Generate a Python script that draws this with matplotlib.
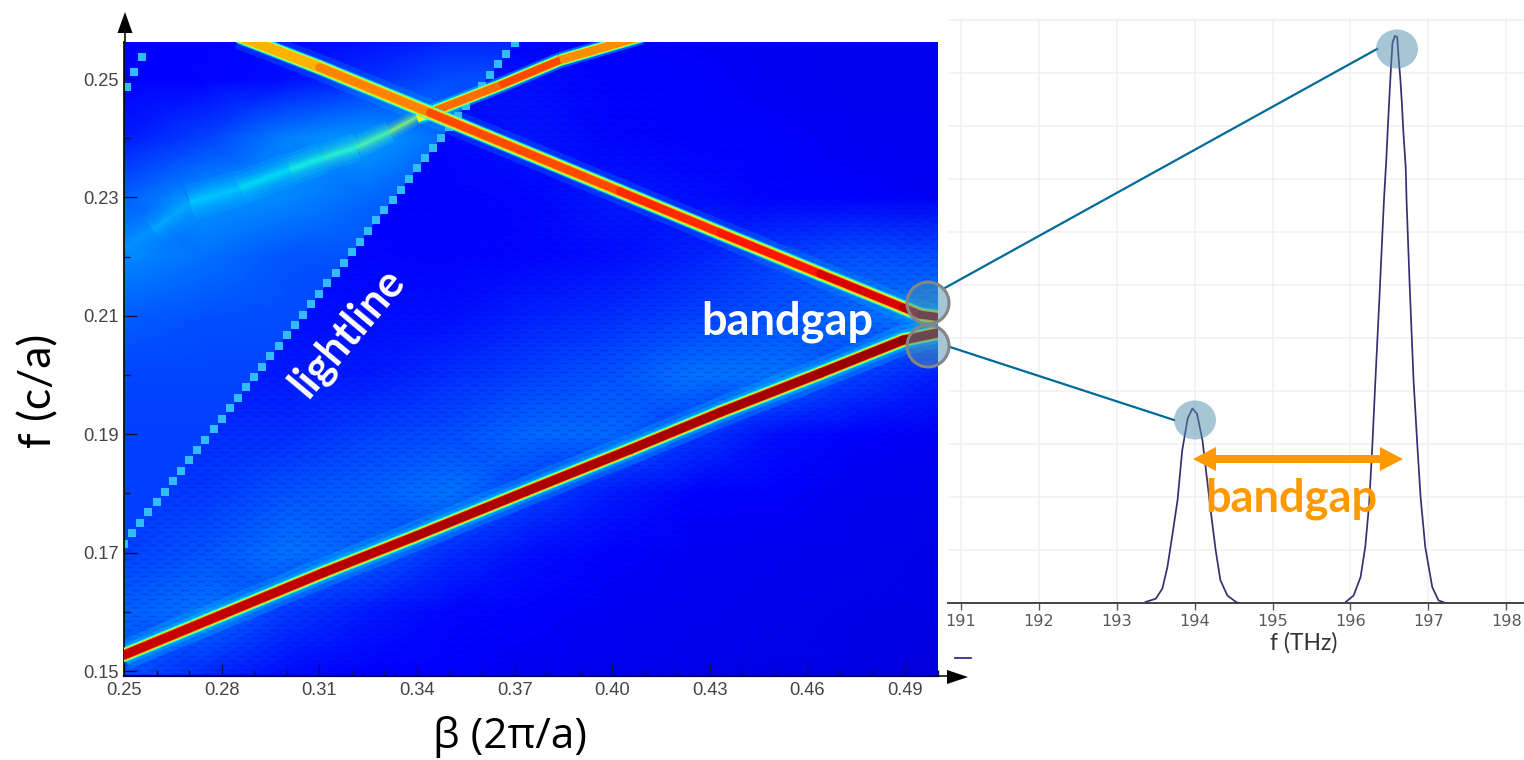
import numpy as np
import matplotlib
matplotlib.use("Agg")
import matplotlib.pyplot as plt
from matplotlib.collections import LineCollection
from matplotlib.patches import Ellipse, Polygon
from matplotlib.ticker import MultipleLocator, FixedLocator, FixedFormatter

W, H = 1524, 760
# ---------- data ----------
bg_beta = [0.25, 0.275, 0.30, 0.325, 0.35, 0.375, 0.40, 0.425, 0.45, 0.475, 0.50]
bg_f = [0.145, 0.15, 0.16, 0.17, 0.18, 0.19, 0.20, 0.21, 0.22, 0.23, 0.24, 0.25, 0.26]
bg_level = [
    [.19, .15, .13, .12, .11, .10, .095, .09, .09, .09, .085],
    [.21, .17, .14, .125, .115, .105, .10, .095, .09, .09, .085],
    [.22, .24, .18, .15, .13, .115, .105, .10, .095, .09, .09],
    [.19, .21, .24, .22, .17, .14, .12, .105, .10, .095, .09],
    [.18, .18, .21, .22, .24, .19, .15, .125, .11, .10, .095],
    [.17, .17, .17, .19, .20, .23, .23, .18, .14, .12, .105],
    [.15, .15, .15, .15, .17, .19, .21, .24, .24, .19, .155],
    [.14, .14, .14, .14, .14, .16, .17, .19, .21, .23, .26],
    [.13, .13, .13, .13, .125, .13, .14, .16, .19, .21, .20],
    [.12, .12, .12, .12, .125, .13, .15, .14, .125, .11, .105],
    [.115, .115, .115, .125, .13, .145, .13, .115, .11, .105, .105],
    [.11, .11, .11, .13, .145, .14, .115, .11, .105, .10, .10],
    [.11, .11, .11, .125, .125, .11, .11, .105, .105, .10, .10],
]
left_beta = [0.25, 0.275, 0.30, 0.325, 0.35, 0.375]
left_f = [0.165, 0.17, 0.18, 0.19, 0.20, 0.21, 0.22, 0.23, 0.24, 0.25, 0.26]
left_level = [
    [.19, .19, .19, .19, .19, .19],
    [.19, .19, .19, .19, .19, .19],
    [.19, .19, .19, .19, .19, .19],
    [.19, .19, .19, .19, .19, .19],
    [.195, .195, .195, .195, .19, .19],
    [.215, .205, .20, .195, .19, .19],
    [.26, .235, .21, .205, .195, .19],
    [.22, .27, .26, .23, .20, .17],
    [.15, .19, .25, .28, .23, .18],
    [.12, .125, .14, .17, .20, .20],
    [.11, .11, .115, .12, .14, .14],
]
lower_beta = [0.25, 0.2804, 0.3112, 0.3388, 0.3738, 0.4055, 0.4332, 0.4639, 0.4894, 0.50]
lower_f = [0.1527, 0.1596, 0.1666, 0.1726, 0.1804, 0.1874, 0.1937, 0.2003, 0.2059, 0.2071]
lower_level = [0.93, 0.94, 0.95, 0.955, 0.96, 0.96, 0.965, 0.97, 0.98, 1.0]

upper_beta = [0.2855, 0.31, 0.344, 0.4024, 0.4332, 0.4639, 0.4894, 0.4946, 0.50]
upper_f = [0.2572, 0.2520, 0.2443, 0.2310, 0.2240, 0.2171, 0.2114, 0.2102, 0.2098]
upper_level = [0.70, 0.74, 0.80, 0.86, 0.87, 0.90, 0.94, 0.97, 1.0]

cross_beta = [0.25, 0.2589, 0.2703, 0.2856, 0.301, 0.3112, 0.3216, 0.3317, 0.34, 0.344, 0.3654, 0.384, 0.409]
cross_f = [0.2215, 0.2245, 0.2291, 0.2316, 0.2347, 0.2367, 0.2385, 0.2411, 0.2436, 0.2443, 0.2489, 0.2532, 0.2572]
cross_level = [0.26, 0.28, 0.31, 0.34, 0.37, 0.39, 0.43, 0.48, 0.58, 0.72, 0.87, 0.80, 0.72]
ridge_width = [1.0, 1.0, 1.0, 0.95, 0.88, 0.78, 0.62, 0.45]

light_beta = [0.25, 0.2525, 0.255, 0.2575, 0.26, 0.2625, 0.265, 0.2675, 0.27, 0.2725, 0.275, 0.2775, 0.28, 0.2825, 0.285,
              0.2875, 0.29, 0.2925, 0.295, 0.2975, 0.30, 0.3025, 0.305, 0.3075, 0.31, 0.3125, 0.315, 0.3175, 0.32,
              0.3225, 0.325, 0.3275, 0.33, 0.3325, 0.335, 0.3375, 0.34, 0.3425, 0.345, 0.3475, 0.35, 0.3525, 0.355,
              0.3575, 0.36, 0.3625, 0.365, 0.3675, 0.37]
light_f = [0.1715, 0.1733, 0.1750, 0.1768, 0.1785, 0.1803, 0.1821, 0.1838, 0.1856, 0.1873, 0.1891, 0.1909, 0.1926, 0.1944, 0.1961,
           0.1979, 0.1997, 0.2014, 0.2032, 0.2049, 0.2067, 0.2085, 0.2102, 0.2120, 0.2137, 0.2155, 0.2173, 0.2190, 0.2208,
           0.2225, 0.2243, 0.2261, 0.2278, 0.2296, 0.2313, 0.2331, 0.2349, 0.2366, 0.2384, 0.2401, 0.2419, 0.2437, 0.2454,
           0.2472, 0.2489, 0.2507, 0.2525, 0.2542, 0.2560]
fold_beta = [0.2509, 0.2531, 0.2555]
fold_f = [0.2487, 0.2512, 0.2538]

x_major = [0.25, 0.28, 0.31, 0.34, 0.37, 0.40, 0.43, 0.46, 0.49]
x_major_labels = ["0.25", "0.28", "0.31", "0.34", "0.37", "0.40", "0.43", "0.46", "0.49"]
y_major = [0.15, 0.17, 0.19, 0.21, 0.23, 0.25]
y_major_labels = ["0.15", "0.17", "0.19", "0.21", "0.23", "0.25"]

thz_ticks = [191, 192, 193, 194, 195, 196, 197, 198]
peak1_thz = [193.37, 193.50, 193.585, 193.65, 193.71, 193.78, 193.84, 193.91, 193.97, 194.03, 194.10, 194.15, 194.21, 194.27,
             194.33, 194.42, 194.53, 194.57]
peak1_amp = [0.02, 0.08, 0.27, 0.68, 1.25, 1.94, 2.88, 3.48, 3.67, 3.57, 3.07, 2.44, 1.69, 0.99, 0.43, 0.14, 0.02, 0.0]
peak2_thz = [195.94, 196.04, 196.13, 196.19, 196.24, 196.28, 196.32, 196.37, 196.43, 196.46, 196.48, 196.50, 196.52, 196.54,
             196.57, 196.60, 196.62, 196.64, 196.66, 196.68, 196.71, 196.72, 196.76, 196.81, 196.86, 196.90, 196.96,
             197.05, 197.13, 197.22]
peak2_amp = [0.02, 0.14, 0.49, 1.06, 1.87, 2.94, 4.2, 5.7, 7.6, 8.36, 8.98, 9.55, 10.1, 10.57, 10.7, 10.68, 10.25, 9.9, 9.43,
             8.87, 8.2, 7.6, 6.0, 4.2, 2.94, 2.0, 1.06, 0.3, 0.05, 0.0]

# ---------- layout helper ----------
def px_axes(fig, x0, y0, x1, y1, **kw):
    return fig.add_axes([x0 / W, 1 - y1 / H, (x1 - x0) / W, (y1 - y0) / H], **kw)

fig = plt.figure(figsize=(W / 100, H / 100), dpi=100, facecolor="white")
TICK = "Liberation Sans"

# ---------- left heat map ----------
ax = px_axes(fig, 124, 42, 938, 676)
cmap = plt.get_cmap("jet")
ax.set_xlim(0.25, 0.5001)
ax.set_ylim(0.14916, 0.25625)
ax.pcolormesh(bg_beta, bg_f, np.array(bg_level), cmap=cmap, vmin=0, vmax=1, shading="gouraud", zorder=1)
left_mesh = ax.pcolormesh(left_beta, left_f, np.array(left_level), cmap=cmap, vmin=0, vmax=1, shading="gouraud", zorder=1.1)
lb, lf = light_beta, light_f
left_clip = Polygon([(lb[0], lf[0]), (lb[-1], lf[-1]), (lb[-1] + 0.001, 0.2570), (0.25, 0.2570)], closed=True,
                    transform=ax.transData)
left_mesh.set_clip_path(left_clip)

# moire texture of the simulation grid, right of the light line
right_clip = Polygon([(lb[0], lf[0]), (lb[-1], lf[-1]), (0.5001, 0.2570), (0.5001, 0.149), (0.25, 0.149)], closed=True,
                     transform=ax.transData)
for i, row in enumerate(np.arange(0.1495, 0.2565, 0.00075)):
    ln, = ax.plot([0.25, 0.5001], [row, row], color="#0000a0", alpha=0.20, lw=1.0,
                  linestyle=(5.8 * (i % 2), (5.8, 5.8)), dash_capstyle="butt", zorder=1.5)
    ln.set_clip_path(right_clip)

def glow_line(beta, f, widths, alphas, level=0.34):
    for w, a in zip(widths, alphas):
        ax.plot(beta, f, color=cmap(level), alpha=a, lw=w * .72, solid_capstyle="butt", solid_joinstyle="round", zorder=2)

def core(segs, lev, widths=(14, 12, 10.5, 9), caps=(.40, .62, .76, 1.0), capstyle="round"):
    for w, cap in zip(widths, caps):
        c = cmap(np.minimum(lev, cap))
        ax.add_collection(LineCollection(segs, colors=c, linewidths=w * .72, capstyle=capstyle, zorder=3))

def to_segs(beta, f, level):
    pts = np.column_stack([beta, f])
    segs = np.stack([pts[:-1], pts[1:]], axis=1)
    lev = 0.5 * (np.array(level[:-1]) + np.array(level[1:]))
    return segs, lev

glow_line(lower_beta, lower_f, (30, 20, 15), (.22, .30, .55))
core(*to_segs(lower_beta, lower_f, lower_level))

segs, lev = to_segs(cross_beta, cross_f, cross_level)
soft = lev < 0.6
taper = np.array(ridge_width)
for w, a in ((36, .12), (27, .14), (19, .18), (13, .24), (8, .32), (4, .42)):
    c = cmap(lev[soft]).copy()
    c[:, 3] = a
    ax.add_collection(LineCollection(segs[soft], colors=c, linewidths=w * taper * .72, capstyle="butt", zorder=2))
ax.plot(cross_beta[8:], cross_f[8:], color=cmap(.34), alpha=.4, lw=16 * .72, solid_capstyle="butt", zorder=2)
core(segs[~soft], lev[~soft], widths=(12, 10, 8.5, 7), capstyle="butt")

ax.scatter(light_beta, light_f, marker="s", s=30, color="#30bcff", linewidths=0, zorder=2.5)
ax.scatter(fold_beta, fold_f, marker="s", s=30, color="#30bcff", linewidths=0, zorder=2.5)

glow_line(upper_beta, upper_f, (26, 16), (.16, .35))
core(*to_segs(upper_beta, upper_f, upper_level), widths=(14, 12, 10, 8), caps=(.40, .60, .72, 1.0))

ax.xaxis.set_major_locator(FixedLocator(x_major))
ax.xaxis.set_major_formatter(FixedFormatter(x_major_labels))
ax.yaxis.set_major_locator(FixedLocator(y_major))
ax.yaxis.set_major_formatter(FixedFormatter(y_major_labels))
ax.xaxis.set_minor_locator(MultipleLocator(0.01))
ax.yaxis.set_minor_locator(MultipleLocator(0.01))
ax.tick_params(axis="both", which="major", direction="in", length=9, width=1, color="#10104a",
               labelsize=13.2, labelcolor="#444444", pad=4)
ax.tick_params(axis="both", which="minor", direction="in", length=4.5, width=1, color="#10104a")
for lab in ax.get_xticklabels() + ax.get_yticklabels():
    lab.set_fontfamily(TICK)
for s in ("top", "right"):
    ax.spines[s].set_visible(False)
ax.spines["left"].set_color("#111111")
ax.spines["bottom"].set_color("#00005a")
ax.spines["left"].set_linewidth(1.3)
ax.spines["bottom"].set_linewidth(1.6)

# ---------- right spectrum ----------
ar = px_axes(fig, 948, 18, 1524, 603)
ar.patch.set_alpha(0)
ar.set_xlim(190.833, 198.228)
ar.set_ylim(0, 585 / 53)
ar.set_xticks(thz_ticks)
ar.set_xticklabels([str(t) for t in thz_ticks])
ar.yaxis.set_major_locator(MultipleLocator(1))
ar.grid(True, color="#f1f1f4", lw=1.1)
ar.set_axisbelow(True)
ar.plot(peak1_thz, peak1_amp, color="#35306f", lw=1.25, zorder=3)
ar.plot(peak2_thz, peak2_amp, color="#35306f", lw=1.25, zorder=3)
for s in ("top", "right", "left"):
    ar.spines[s].set_visible(False)
ar.spines["bottom"].set_color("#444444")
ar.spines["bottom"].set_linewidth(1.4)
ar.tick_params(axis="y", left=False, labelleft=False)
ar.tick_params(axis="x", direction="out", length=5, width=1, color="#555555", labelsize=11.6, labelcolor="#5a5a5a", pad=3)

# ---------- annotation overlay (figure pixel coordinates) ----------
ov = fig.add_axes([0, 0, 1, 1], facecolor="none")
ov.set_xlim(0, W)
ov.set_ylim(H, 0)
ov.axis("off")
LINK = "#006b99"
ov.plot([943, 1377], [289, 49], color=LINK, lw=1.6, zorder=2)
ov.plot([950, 1174], [347, 420], color=LINK, lw=1.6, zorder=2)
FILL = (0.31, 0.56, 0.68, 0.5)
for cx, cy in ((1397, 49), (1195, 420)):
    ov.add_patch(Ellipse((cx, cy), 42, 39, facecolor=FILL, edgecolor="none", zorder=3))
for cx, cy in ((928, 303), (928, 346)):
    ov.add_patch(Ellipse((cx, cy), 42, 42, facecolor=FILL, edgecolor="#858585", lw=2.2, zorder=3))
ov.add_patch(Polygon([(1193, 459), (1216, 447), (1216, 455), (1380, 455), (1380, 447), (1403, 459),
                      (1380, 471), (1380, 463), (1216, 463), (1216, 471)], closed=True,
                     facecolor="#ff9900", edgecolor="none", zorder=4))
# y-axis arrow and x-axis arrow
ov.plot([124.5, 124.5], [42, 30], color="#111111", lw=1.2, zorder=2)
ov.add_patch(Polygon([(125, 12), (132.5, 33), (117.5, 33)], closed=True, facecolor="black", edgecolor="none"))
ov.plot([938, 950], [676, 676], color="#111111", lw=1.2, zorder=2)
ov.add_patch(Polygon([(968, 677), (947, 670), (947, 684)], closed=True, facecolor="black", edgecolor="none"))
ov.plot([955, 971], [658, 658], color="#1c1c8a", lw=1.2)

BOLD = dict(family="Lato", fontweight="bold", ha="center", va="center", zorder=6)
ov.text(787, 322, "bandgap", color="white", fontsize=32.5, **BOLD)
ov.text(1291, 499, "bandgap", color="#ff9900", fontsize=32.5, **BOLD)
ov.text(347, 332, "lightline", color="white", fontsize=31, rotation=50, rotation_mode="anchor", **BOLD)
ov.text(39, 391, "f (c/a)", color="black", fontsize=32, rotation=90, ha="center", va="center", family="Lato")
ov.text(510, 737, "β (2π/a)", color="black", fontsize=30.5, ha="center", va="center", family="Open Sans")
ov.text(1304, 643, "f (THz)", color="#333333", fontsize=16.5, ha="center", va="center", family="Lato")

fig.savefig("out.png", dpi=100, facecolor="white")
